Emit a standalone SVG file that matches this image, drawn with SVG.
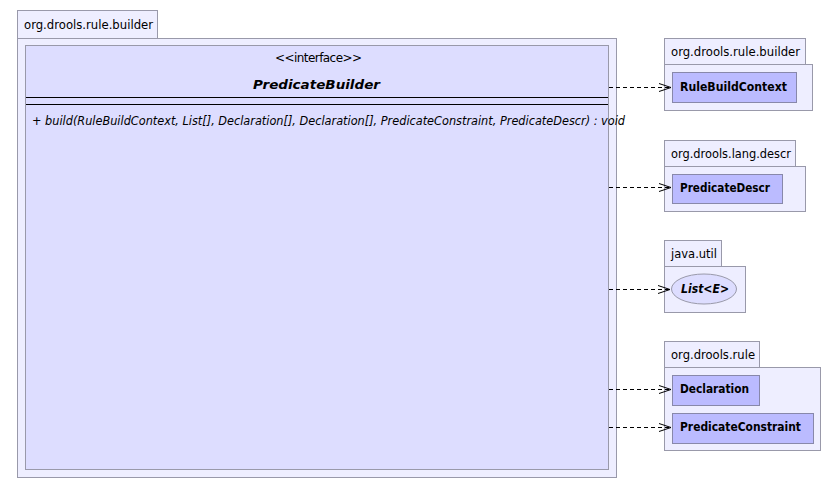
<svg xmlns="http://www.w3.org/2000/svg" width="839" height="489" viewBox="0 0 839 489">
<style>
.pkg{fill:#eeeeff;stroke:#9999aa;stroke-width:1}
.cls{fill:#bbbbff;stroke:#8888aa;stroke-width:1}
.big{fill:#ddddff;stroke:#9999aa;stroke-width:1}
.t{font-family:"DejaVu Sans",Verdana,sans-serif;font-size:12px;fill:#000}
.b{font-weight:bold}
.i{font-style:italic}
.conn{stroke:#000;stroke-width:1;stroke-dasharray:4,3;fill:none}
.arr{stroke:#000;stroke-width:1;fill:none}
</style>
<rect width="839" height="489" fill="#ffffff"/>
<g id="pkg-main">
<rect class="pkg" x="17.5" y="10.5" width="140" height="28"/>
<rect class="pkg" x="17.5" y="38.5" width="599" height="439"/>
<text class="t" x="24" y="29" textLength="129" lengthAdjust="spacingAndGlyphs">org.drools.rule.builder</text>
</g>
<g id="PredicateBuilder">
<rect class="big" x="25.5" y="45.5" width="583" height="424"/>
<text class="t" x="275" y="62" font-size="11" textLength="87" lengthAdjust="spacing">&lt;&lt;interface&gt;&gt;</text>
<text class="t b i" x="253" y="89" font-size="15" textLength="127" lengthAdjust="spacingAndGlyphs">PredicateBuilder</text>
<line x1="26" y1="97.5" x2="608" y2="97.5" stroke="#000"/>
<line x1="26" y1="104.5" x2="608" y2="104.5" stroke="#000"/>
<text class="t i" x="32" y="125" font-size="11" textLength="593" lengthAdjust="spacingAndGlyphs">+ build(RuleBuildContext, List[], Declaration[], Declaration[], PredicateConstraint, PredicateDescr) : void</text>
</g>
<g id="pkg-rule-builder">
<rect class="pkg" x="664.5" y="38.5" width="141" height="26"/>
<rect class="pkg" x="664.5" y="64.5" width="148" height="46"/>
<text class="t" x="671" y="56" textLength="129" lengthAdjust="spacingAndGlyphs">org.drools.rule.builder</text>
</g>
<g id="RuleBuildContext">
<rect class="cls" x="672.5" y="72.5" width="124" height="30"/>
<text class="t b" x="680" y="91" textLength="107" lengthAdjust="spacingAndGlyphs">RuleBuildContext</text>
</g>
<g id="pkg-lang-descr">
<rect class="pkg" x="664.5" y="140.5" width="131" height="26"/>
<rect class="pkg" x="664.5" y="166.5" width="141" height="45"/>
<text class="t" x="671" y="158" textLength="120" lengthAdjust="spacingAndGlyphs">org.drools.lang.descr</text>
</g>
<g id="PredicateDescr">
<rect class="cls" x="672.5" y="174.5" width="110" height="29"/>
<text class="t b" x="680" y="192" textLength="90" lengthAdjust="spacingAndGlyphs">PredicateDescr</text>
</g>
<g id="pkg-java-util">
<rect class="pkg" x="664.5" y="240.5" width="57" height="26"/>
<rect class="pkg" x="664.5" y="266.5" width="81" height="46"/>
<text class="t" x="671" y="258" textLength="46" lengthAdjust="spacingAndGlyphs">java.util</text>
</g>
<g id="List">
<ellipse cx="704" cy="289" rx="32.5" ry="15" fill="#ddddff" stroke="#9999aa"/>
<text class="t b i" x="681" y="293" textLength="48" lengthAdjust="spacingAndGlyphs">List&lt;E&gt;</text>
</g>
<g id="pkg-rule">
<rect class="pkg" x="664.5" y="341.5" width="95" height="26"/>
<rect class="pkg" x="664.5" y="367.5" width="156" height="83"/>
<text class="t" x="671" y="359" textLength="84" lengthAdjust="spacingAndGlyphs">org.drools.rule</text>
</g>
<g id="Declaration">
<rect class="cls" x="672.5" y="375.5" width="87" height="30"/>
<text class="t b" x="680" y="393" textLength="69" lengthAdjust="spacingAndGlyphs">Declaration</text>
</g>
<g id="PredicateConstraint">
<rect class="cls" x="672.5" y="413.5" width="141" height="30"/>
<text class="t b" x="680" y="431" textLength="121" lengthAdjust="spacingAndGlyphs">PredicateConstraint</text>
</g>
<g id="connectors">
<line class="conn" x1="609" y1="87.5" x2="671" y2="87.5"/>
<polyline class="arr" points="659,83.5 671,87.5 659,91.5"/>
<line class="conn" x1="609" y1="187.5" x2="671" y2="187.5"/>
<polyline class="arr" points="659,183.5 671,187.5 659,191.5"/>
<line class="conn" x1="609" y1="289.5" x2="670" y2="289.5"/>
<polyline class="arr" points="658,285.5 670,289.5 658,293.5"/>
<line class="conn" x1="609" y1="389.5" x2="671" y2="389.5"/>
<polyline class="arr" points="659,385.5 671,389.5 659,393.5"/>
<line class="conn" x1="609" y1="427.5" x2="671" y2="427.5"/>
<polyline class="arr" points="659,423.5 671,427.5 659,431.5"/>
</g>
</svg>
